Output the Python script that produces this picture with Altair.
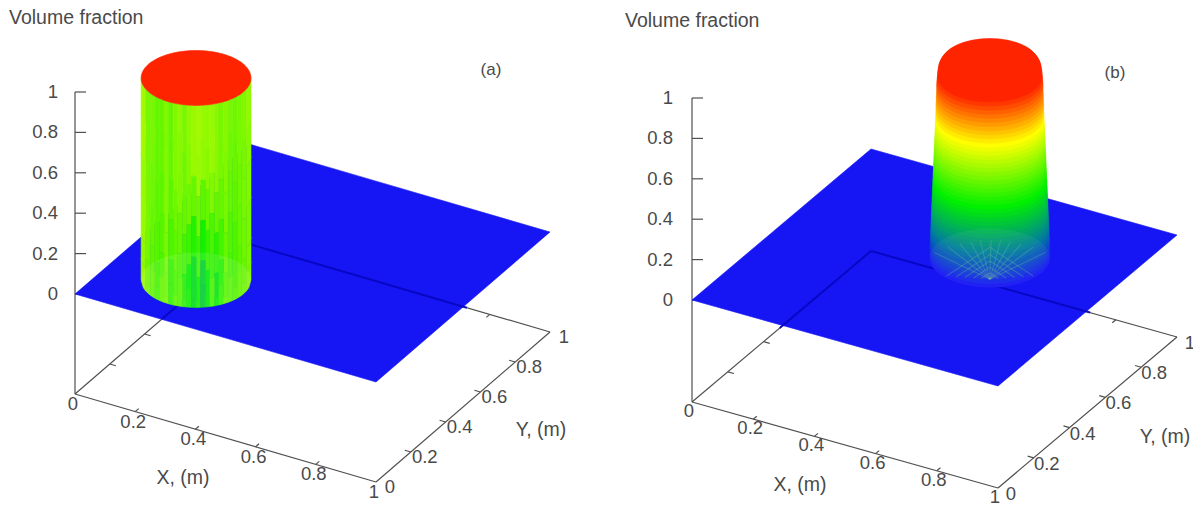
import numpy as np
import pandas as pd
import altair as alt

# ---- values ----
z_ticks = [0, 0.2, 0.4, 0.6, 0.8, 1]
z_labels = ["0", "0.2", "0.4", "0.6", "0.8", "1"]

# tower (b): level and radius of the smeared column
tower_z = [0.00, 0.02, 0.04, 0.06, 0.08, 0.10, 0.12, 0.14, 0.16, 0.18,
           0.20, 0.22, 0.24, 0.26, 0.28, 0.30, 0.32, 0.34, 0.36, 0.38,
           0.40, 0.42, 0.44, 0.46, 0.48, 0.50, 0.52, 0.54, 0.56, 0.58,
           0.60, 0.62, 0.64, 0.66, 0.68, 0.70, 0.72, 0.74, 0.76, 0.78,
           0.80, 0.82, 0.84, 0.86, 0.88, 0.90, 0.92, 0.94, 0.95, 0.96, 0.97, 0.98]
tower_r = [0.170, 0.170, 0.169, 0.169, 0.168, 0.168, 0.167, 0.167, 0.166, 0.166,
           0.165, 0.165, 0.164, 0.164, 0.163, 0.163, 0.162, 0.162, 0.161, 0.161,
           0.160, 0.160, 0.159, 0.159, 0.158, 0.158, 0.157, 0.157, 0.156, 0.156,
           0.155, 0.155, 0.154, 0.154, 0.153, 0.153, 0.152, 0.152, 0.152, 0.151,
           0.151, 0.150, 0.150, 0.150, 0.149, 0.148, 0.147, 0.145, 0.143, 0.140, 0.135, 0.120]

# ripples at the foot of tower (b): fan direction (fraction of half-width)
fan_ends = [-0.92, -0.70, -0.50, -0.32, -0.16, 0.02, 0.18, 0.34, 0.52, 0.72, 0.92]
fan_rise = [0.30, 0.62, 0.78, 0.90, 0.96, 0.98, 0.96, 0.88, 0.76, 0.60, 0.30]
arc_size = [0.16, 0.30, 0.46, 0.62, 0.80]

# cylinder (a): side streaks, top row to bottom row, left to right
band_hi = [1.00, 0.80, 0.60, 0.40, 0.20, 0.08]
band_lo = [0.80, 0.60, 0.40, 0.20, 0.08, 0.00]
band_shift = [0.03, -0.04, 0.05, -0.02, 0.04, -0.05, 0.02, -0.03, 0.06, -0.04, 0.01, 0.05,
              -0.05, 0.03, -0.02, 0.06, -0.04, 0.02, -0.05, 0.04, -0.02, 0.05, -0.03, 0.01]
streaks = [
    [.57, .52, .52, .50, .50, .53, .50, .53, .55, .52, .55, .56, .57, .56, .55, .56, .54, .52, .54, .52, .51, .52, .53, .55],
    [.57, .52, .52, .50, .50, .53, .50, .53, .54, .51, .54, .56, .56, .55, .54, .56, .54, .52, .53, .51, .50, .52, .52, .54],
    [.56, .52, .51, .49, .49, .53, .49, .51, .53, .50, .51, .50, .51, .49, .50, .53, .50, .50, .52, .50, .49, .51, .52, .53],
    [.56, .52, .50, .48, .48, .52, .47, .49, .50, .46, .45, .42, .45, .40, .44, .47, .43, .46, .50, .48, .47, .50, .51, .52],
    [.55, .51, .49, .46, .47, .51, .44, .47, .47, .41, .38, .34, .39, .32, .37, .44, .36, .42, .48, .47, .46, .49, .50, .52],
    [.56, .52, .50, .47, .50, .52, .44, .49, .48, .43, .40, .34, .40, .31, .37, .46, .39, .44, .50, .49, .48, .50, .51, .53],
]

# ---- view of each panel, in page pixels ----
panels = {
    "a": dict(ox=75, oy=294, ax=301, ay=88, bx=174, by=-150, c=202, zb=-0.495,
              cx=0.26, cy=0.246, r=0.158, title=(9, 18), tag=("(a)", 491, 70), glaze=0.11,
              zlx=58, xl=("X, (m)", 183, 478), yl=("Y, (m)", 541, 430), seen=(0.50, 0.724),
              xoff=(-2, 10), yoff=(14, 5)),
    "b": dict(ox=692, oy=300, ax=306, ay=86, bx=179, by=-151, c=202, zb=-0.505,
              cx=0.608, cy=0.6246, r=0.17, title=(625, 21), tag=("(b)", 1115, 73), glaze=0.05,
              zlx=673, xl=("X, (m)", 800, 485), yl=("Y, (m)", 1165, 437), seen=(0.49, 0.716),
              xoff=(-3, 9), yoff=(13, 6)),
}


def pr(p, X, Y, Z=0.0):
    return p["ox"] + p["ax"] * X + p["bx"] * Y, p["oy"] + p["ay"] * X + p["by"] * Y - p["c"] * Z


lines, inner, texts, plane, stack, cells, film, ripples = [], [], [], [], [], [], [], []


def seg(rows, p, A, B):
    x1, y1 = pr(p, *A)
    x2, y2 = pr(p, *B)
    rows.append(dict(x=x1, y=y1, x2=x2, y2=y2))


t_grid = np.linspace(np.pi, 0, 41)
for key, p in panels.items():
    zb = p["zb"]
    seg(lines, p, (0, 0, zb), (1, 0, zb))
    seg(lines, p, (1, 0, zb), (1, 1, zb))
    seg(lines, p, (1, 1, zb), (0, 1, zb))
    seg(lines, p, (0, 1, zb), (0, 0, zb))
    seg(lines, p, (0, 0, zb), (0, 0, 1))
    x0, _ = pr(p, 0, 0)
    for zv, lab in zip(z_ticks, z_labels):
        _, yy = pr(p, 0, 0, zv)
        lines.append(dict(x=x0, y=yy, x2=x0 + 11, y2=yy))
        texts.append(dict(x=p["zlx"], y=yy, t=lab, a="right", s=18.5))
    for v, lab in zip(z_ticks, z_labels):
        if 0 < v < 1:
            seg(lines, p, (v, 0, zb), (v, 0.02, zb))
            seg(lines, p, (v, 1, zb), (v, 0.98, zb))
            seg(lines, p, (1, v, zb), (0.98, v, zb))
            seg(lines, p, (0, v, zb), (0.02, v, zb))
        xx, yy = pr(p, v, 0, zb)
        texts.append(dict(x=xx + p["xoff"][0], y=yy + p["xoff"][1], t=lab, a="center", s=18.5))
        xx, yy = pr(p, 1, v, zb)
        texts.append(dict(x=xx + p["yoff"][0], y=yy + p["yoff"][1], t=lab, a="center", s=18.5))
    s1, s2 = p["seen"]
    seg(inner, p, (0, s1, zb), (0, 1, zb))
    seg(inner, p, (0, 1, zb), (s2, 1, zb))
    corners = [pr(p, 0, 0), pr(p, 0, 1), pr(p, 1, 1), pr(p, 1, 0)]
    xs = sorted(c[0] for c in corners)
    up = [corners[0], corners[1], corners[2]]
    lo = [corners[0], corners[3], corners[2]]
    for xx in xs:
        plane.append(dict(panel=key, x=xx,
                          y=np.interp(xx, [c[0] for c in up], [c[1] for c in up]),
                          y2=np.interp(xx, [c[0] for c in lo], [c[1] for c in lo]), v=0.0))
    A = p["r"] * np.hypot(p["ax"], p["bx"])
    B = p["r"] * np.hypot(p["ay"], p["by"])
    xc, yc = pr(p, p["cx"], p["cy"])
    texts.append(dict(x=p["title"][0], y=p["title"][1], t="Volume fraction", a="left", s=19.5))
    texts.append(dict(x=p["tag"][1], y=p["tag"][2], t=p["tag"][0], a="center", s=17))
    texts.append(dict(x=p["xl"][1], y=p["xl"][2], t=p["xl"][0], a="center", s=19.5))
    texts.append(dict(x=p["yl"][1], y=p["yl"][2], t=p["yl"][0], a="center", s=19.5))
    for t in t_grid:
        film.append(dict(panel=key, op=p["glaze"], x=xc + A * np.cos(t), y=yc - B * np.sin(t), y2=yc + B * np.sin(t)))

    if key == "a":
        edges = np.linspace(-1, 1, len(streaks[0]) + 1)
        for ri, row in enumerate(streaks):
            for ci, v in enumerate(row):
                hi = band_hi[ri] + (band_shift[ci] if ri > 0 else 0)
                lo_z = band_lo[ri] + (band_shift[ci] if ri < len(streaks) - 1 else 0)
                for u in (edges[ci], (edges[ci] + edges[ci + 1]) / 2, edges[ci + 1]):
                    sag = B * np.sqrt(max(0, 1 - u * u))
                    cells.append(dict(cell=f"{ri}-{ci}", x=xc + A * u,
                                      y=yc - p["c"] * hi + sag,
                                      y2=yc - p["c"] * lo_z + sag, v=v))
        for t in t_grid:
            stack.append(dict(level="a-top", x=xc + A * np.cos(t),
                              y=yc - p["c"] - B * np.sin(t), y2=yc - p["c"] + B * np.sin(t), v=0.97))
    else:
        for i, (zv, rv) in enumerate(zip(tower_z, tower_r)):
            A = rv * np.hypot(p["ax"], p["bx"])
            B = rv * np.hypot(p["ay"], p["by"])
            for t in t_grid:
                stack.append(dict(level=f"b{i:03d}", x=xc + A * np.cos(t),
                                  y=yc - p["c"] * zv - B * np.sin(t),
                                  y2=yc - p["c"] * zv + B * np.sin(t), v=zv))
        # ripples on the foot: a fan from the front and chevron arcs around it
        A = 0.17 * np.hypot(p["ax"], p["bx"])
        B = 0.17 * np.hypot(p["ay"], p["by"])
        apex = (xc, yc + 0.72 * B)
        for n, (e, f) in enumerate(zip(fan_ends, fan_rise)):
            ripples.append(dict(rid=f"f{n}", o=0, x=apex[0], y=apex[1]))
            ripples.append(dict(rid=f"f{n}", o=1, x=xc + A * e, y=yc - 0.62 * B * f))
        for n, s in enumerate(arc_size):
            for o, e in enumerate([-0.9, -0.5, 0.0, 0.5, 0.9]):
                ripples.append(dict(rid=f"a{n}", o=o, x=xc + A * s * e,
                                    y=apex[1] - 1.5 * B * s * (1 - abs(e)) * 0.9))

# ---- scales: page pixels through the chart's own scales ----
X = alt.Scale(domain=[8, 1193], range=[0, 1185])
Y = alt.Scale(domain=[8, 505], range=[0, 497])
C = alt.Scale(domain=[0, 0.16, 0.38, 0.68, 0.90, 1],
              range=["#1616f4", "#00809a", "#00f000", "#ffff00", "#ff2400", "#ff2400"],
              interpolate="rgb")


def xq():
    return alt.X("x:Q", scale=X, axis=None)


def yq():
    return alt.Y("y:Q", scale=Y, axis=None, stack=None)


def rule(rows, color, width=1.0, opacity=1.0):
    return alt.Chart(pd.DataFrame(rows)).mark_rule(color=color, strokeWidth=width, opacity=opacity).encode(
        xq(), yq(), x2="x2:Q", y2="y2:Q")


def areas(rows, field):
    return alt.Chart(pd.DataFrame(rows)).mark_area(strokeWidth=0.6).encode(
        xq(), yq(), y2="y2:Q",
        color=alt.Color("v:Q", scale=C, legend=None),
        stroke=alt.Stroke("v:Q", scale=C, legend=None),
        detail=f"{field}:N")


frame = rule(lines, "#505050", 1.2)
plane_l = areas(plane, "panel")
seen = rule(inner, "#0505c0", 2.0, 0.9)
side = areas(cells, "cell")
tops = areas(stack, "level")
glaze = alt.Chart(pd.DataFrame(film)).mark_area(color="#ffffff").encode(
    xq(), yq(), y2="y2:Q", detail="panel:N", opacity=alt.Opacity("op:Q", scale=None, legend=None))
rip = alt.Chart(pd.DataFrame(ripples)).mark_line(color="#6fbf9f", strokeWidth=1.2, opacity=0.3).encode(
    xq(), yq(), order="o:Q", detail="rid:N")

tdf = pd.DataFrame(texts)
label_layers = []
for a in ("left", "center", "right"):
    label_layers.append(
        alt.Chart(tdf[tdf["a"] == a]).mark_text(align=a, baseline="middle", font="Liberation Sans",
                                                color="#4a4a4a").encode(
            xq(), yq(), text="t:N", size=alt.Size("s:Q", scale=None, legend=None)))

chart = alt.layer(frame, plane_l, seen, side, tops, glaze, rip, *label_layers).properties(
    width=1185, height=497, padding=0, autosize=alt.AutoSizeParams(type="none"),
    background="#ffffff",
).configure_view(stroke=None)

chart.save("out.html", embed_options={"renderer": "svg", "actions": False})
